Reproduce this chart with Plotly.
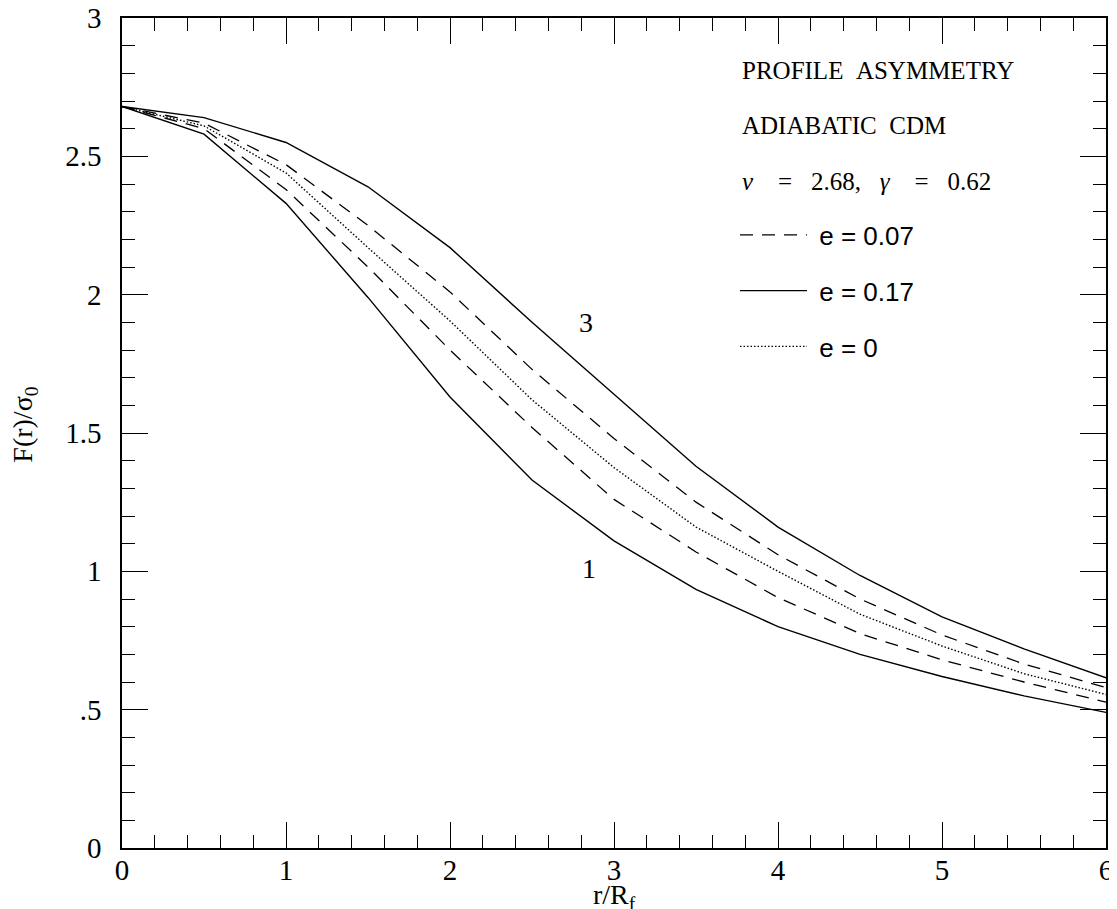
import plotly.graph_objects as go

# ---- data ----
r = [0, 0.5, 1, 1.5, 2, 2.5, 3, 3.5, 4, 4.5, 5, 5.5, 6]
solid_upper = [2.68, 2.64, 2.55, 2.39, 2.17, 1.90, 1.64, 1.38, 1.16, 0.985, 0.835, 0.72, 0.615]   # e=0.17, direction 3
solid_lower = [2.68, 2.58, 2.33, 1.99, 1.63, 1.33, 1.11, 0.935, 0.80, 0.70, 0.62, 0.55, 0.49]    # e=0.17, direction 1
dash_upper = [2.68, 2.62, 2.47, 2.25, 2.01, 1.73, 1.48, 1.25, 1.06, 0.90, 0.77, 0.665, 0.58]      # e=0.07, direction 3
dash_lower = [2.68, 2.60, 2.38, 2.10, 1.80, 1.52, 1.26, 1.07, 0.905, 0.775, 0.68, 0.60, 0.527]    # e=0.07, direction 1
dotted = [2.68, 2.61, 2.44, 2.17, 1.905, 1.62, 1.375, 1.16, 1.00, 0.845, 0.73, 0.63, 0.555]       # e=0

x_tickvals = [0, 1, 2, 3, 4, 5, 6]
x_ticktext = ["0", "1", "2", "3", "4", "5", "6"]
y_tickvals = [0, 0.5, 1, 1.5, 2, 2.5, 3]
y_ticktext = ["0", ".5", "1", "1.5", "2", "2.5", "3"]

NB = "\u00a0"
title_lines = [
    "PROFILE" + NB * 2 + "ASYMMETRY",
    "ADIABATIC" + NB * 2 + "CDM",
    "<i>\u03bd</i>" + NB * 4 + "=" + NB * 3 + "2.68," + NB * 3 + "<i>\u03b3</i>" + NB * 4 + "=" + NB * 3 + "0.62",
]
title_y = [2.81, 2.61, 2.41]
curve_labels = [("3", 2.83, 1.90), ("1", 2.85, 1.01)]
x_title = "r/R<sub>f</sub>"
y_title = "F(r)/\u03c3<sub>0</sub>"

SERIF = "Liberation Serif"
SANS = "Liberation Sans"
DASH = "13px,9px"
DOT = "1.5px,2px"

fig = go.Figure()
fig.add_trace(go.Scatter(x=r, y=dash_upper, mode="lines", name=NB + "e = 0.07",
                         line=dict(color="black", width=1.3, dash=DASH),
                         legendgroup="a", legendrank=1))
fig.add_trace(go.Scatter(x=r, y=dash_lower, mode="lines", showlegend=False,
                         line=dict(color="black", width=1.3, dash=DASH), legendgroup="a"))
fig.add_trace(go.Scatter(x=r, y=solid_upper, mode="lines", name=NB + "e = 0.17",
                         line=dict(color="black", width=1.4),
                         legendgroup="b", legendrank=2))
fig.add_trace(go.Scatter(x=r, y=solid_lower, mode="lines", showlegend=False,
                         line=dict(color="black", width=1.4), legendgroup="b"))
fig.add_trace(go.Scatter(x=r, y=dotted, mode="lines", name=NB + "e = 0",
                         line=dict(color="black", width=1.4, dash=DOT),
                         legendgroup="c", legendrank=3))

annotations = []
for txt, yy in zip(title_lines, title_y):
    annotations.append(dict(x=3.77, y=yy, xref="x", yref="y", text=txt, showarrow=False,
                            xanchor="left", yanchor="middle",
                            font=dict(family=SERIF, size=25, color="black")))
for txt, xx, yy in curve_labels:
    annotations.append(dict(x=xx, y=yy, xref="x", yref="y", text=txt, showarrow=False,
                            xanchor="center", yanchor="middle",
                            font=dict(family=SERIF, size=28, color="black")))
# axis titles
annotations.append(dict(x=0.501, y=-0.058, xref="paper", yref="paper", text=x_title,
                        showarrow=False, xanchor="center", yanchor="middle",
                        font=dict(family=SERIF, size=28, color="black")))
annotations.append(dict(x=-0.0986, y=0.51, xref="paper", yref="paper", text=y_title,
                        showarrow=False, xanchor="center", yanchor="middle", textangle=-90,
                        font=dict(family=SERIF, size=28, color="black")))

axis_common = dict(showgrid=False, zeroline=False, showline=True, linecolor="black",
                   linewidth=1.5, mirror="ticks", ticks="inside", tickcolor="black",
                   tickwidth=1.2, ticklen=26, automargin=False, ticklabeloverflow="allow",
                   tickfont=dict(family=SERIF, size=29, color="black"))

fig.update_layout(
    width=1109, height=901,
    margin=dict(l=114, r=11, t=10, b=61, autoexpand=False),
    paper_bgcolor="white", plot_bgcolor="white",
    showlegend=True,
    legend=dict(x=0.623, y=0.767, xanchor="left", yanchor="top",
                traceorder="grouped", tracegroupgap=19, itemwidth=67,
                bgcolor="rgba(0,0,0,0)",
                font=dict(family=SANS, size=26, color="black")),
    annotations=annotations,
    xaxis=dict(range=[0, 6], tickvals=x_tickvals, ticktext=x_ticktext,
               minor=dict(dtick=0.2, ticklen=13, ticks="inside", tickcolor="black", tickwidth=1.2),
               ticklabelstandoff=-5,
               **axis_common),
    yaxis=dict(range=[0, 3], tickvals=y_tickvals, ticktext=y_ticktext,
               minor=dict(dtick=0.1, ticklen=13, ticks="inside", tickcolor="black", tickwidth=1.2),
               ticklabelstandoff=13,
               **axis_common),
)

fig.write_html("out.html")
